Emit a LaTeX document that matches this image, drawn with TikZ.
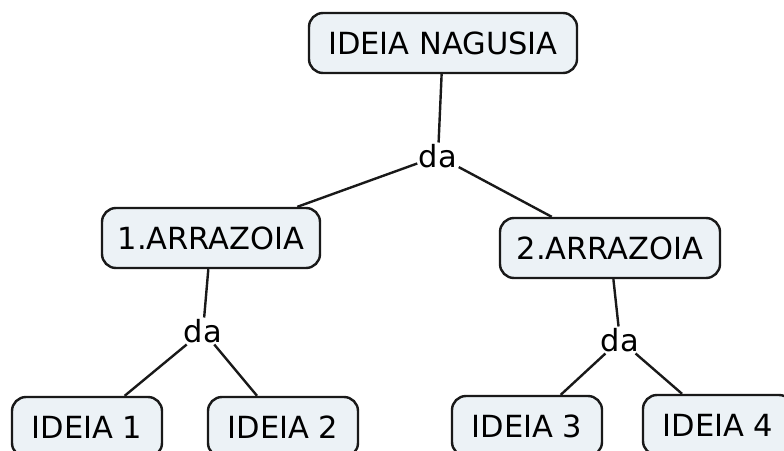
\documentclass[tikz,border=0pt]{standalone}
\usepackage{fontspec}
\setmainfont{DejaVu Sans}
\definecolor{boxfill}{RGB}{236,242,246}
\definecolor{boxline}{RGB}{25,25,25}
\begin{document}
\begin{tikzpicture}[x=1pt,y=-1pt,
  concept/.style={draw=boxline, line width=2.4pt, fill=boxfill, rounded corners=14pt,
    minimum height=60pt, inner sep=0pt, font=\fontsize{30.5}{36}\selectfont},
  linker/.style={inner sep=1.5pt, font=\fontsize{30.5}{36}\selectfont},
  conn/.style={draw=boxline, line width=2.4pt}]
\useasboundingbox (0,0) rectangle (784,450);
\node[concept, minimum width=268pt] (top) at (443,43) {IDEIA NAGUSIA};
\node[linker] (da0) at (438,156) {da};
\node[concept, minimum width=218pt] (a1) at (211,238) {1.ARRAZOIA};
\node[concept, minimum width=220pt] (a2) at (610,248) {2.ARRAZOIA};
\node[linker] (da1) at (203,331) {da};
\node[linker] (da2) at (620,340) {da};
\node[concept, minimum width=150pt] (i1) at (87,427) {IDEIA 1};
\node[concept, minimum width=150pt] (i2) at (283,427) {IDEIA 2};
\node[concept, minimum width=150pt] (i3) at (527,426) {IDEIA 3};
\node[concept, minimum width=150pt] (i4) at (718,425) {IDEIA 4};
\draw[conn] (top) -- (da0);
\draw[conn] (da0) -- (a1);
\draw[conn] (da0) -- (a2);
\draw[conn] (a1) -- (da1);
\draw[conn] (da1) -- (i1);
\draw[conn] (da1) -- (i2);
\draw[conn] (a2) -- (da2);
\draw[conn] (da2) -- (i3);
\draw[conn] (da2) -- (i4);
\end{tikzpicture}
\end{document}
